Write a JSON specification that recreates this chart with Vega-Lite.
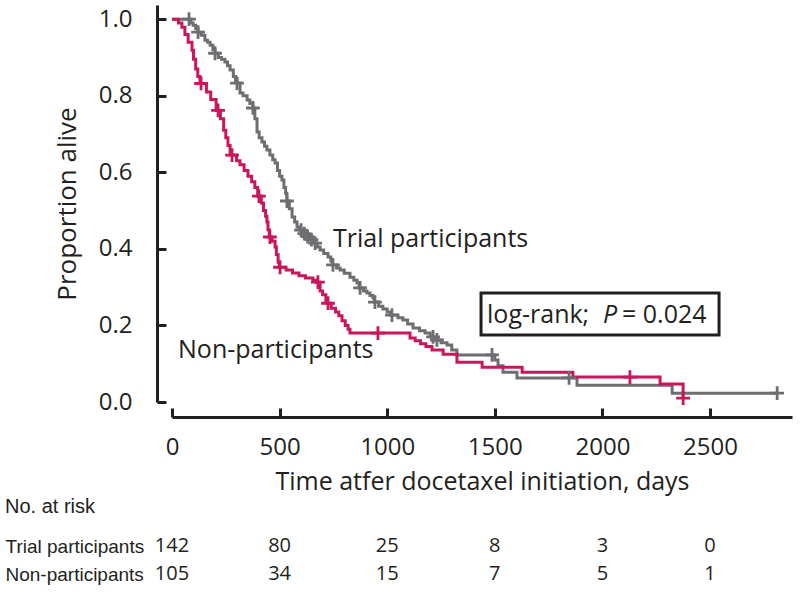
{
  "$schema": "https://vega.github.io/schema/vega-lite/v6.json",
  "background": "white",
  "padding": {"left": 5, "top": 5, "right": 5, "bottom": 5},
  "spacing": 3,
  "config": {
    "view": {"stroke": null},
    "font": "Open Sans",
    "axis": {"grid": false}
  },
  "datasets": {
    "curves": [
      {"group": "Trial participants", "day": 0, "surv": 1.0},
      {"group": "Trial participants", "day": 88, "surv": 0.99},
      {"group": "Trial participants", "day": 98, "surv": 0.984},
      {"group": "Trial participants", "day": 110, "surv": 0.975},
      {"group": "Trial participants", "day": 121, "surv": 0.966},
      {"group": "Trial participants", "day": 135, "surv": 0.958},
      {"group": "Trial participants", "day": 153, "surv": 0.945},
      {"group": "Trial participants", "day": 165, "surv": 0.94},
      {"group": "Trial participants", "day": 177, "surv": 0.932},
      {"group": "Trial participants", "day": 190, "surv": 0.92},
      {"group": "Trial participants", "day": 200, "surv": 0.911},
      {"group": "Trial participants", "day": 215, "surv": 0.9},
      {"group": "Trial participants", "day": 230, "surv": 0.895},
      {"group": "Trial participants", "day": 246, "surv": 0.888},
      {"group": "Trial participants", "day": 258, "surv": 0.878},
      {"group": "Trial participants", "day": 270, "surv": 0.867},
      {"group": "Trial participants", "day": 285, "surv": 0.85},
      {"group": "Trial participants", "day": 295, "surv": 0.84},
      {"group": "Trial participants", "day": 302, "surv": 0.833},
      {"group": "Trial participants", "day": 316, "surv": 0.807},
      {"group": "Trial participants", "day": 330, "surv": 0.8},
      {"group": "Trial participants", "day": 349, "surv": 0.789},
      {"group": "Trial participants", "day": 362, "surv": 0.78},
      {"group": "Trial participants", "day": 376, "surv": 0.768},
      {"group": "Trial participants", "day": 385, "surv": 0.74},
      {"group": "Trial participants", "day": 395, "surv": 0.705},
      {"group": "Trial participants", "day": 405, "surv": 0.69},
      {"group": "Trial participants", "day": 418, "surv": 0.679},
      {"group": "Trial participants", "day": 430, "surv": 0.668},
      {"group": "Trial participants", "day": 441, "surv": 0.658},
      {"group": "Trial participants", "day": 455, "surv": 0.645},
      {"group": "Trial participants", "day": 468, "surv": 0.633},
      {"group": "Trial participants", "day": 479, "surv": 0.624},
      {"group": "Trial participants", "day": 490, "surv": 0.605},
      {"group": "Trial participants", "day": 500, "surv": 0.59},
      {"group": "Trial participants", "day": 511, "surv": 0.58},
      {"group": "Trial participants", "day": 520, "surv": 0.56},
      {"group": "Trial participants", "day": 528, "surv": 0.545},
      {"group": "Trial participants", "day": 534, "surv": 0.525},
      {"group": "Trial participants", "day": 545, "surv": 0.505},
      {"group": "Trial participants", "day": 558, "surv": 0.483},
      {"group": "Trial participants", "day": 570, "surv": 0.47},
      {"group": "Trial participants", "day": 581, "surv": 0.457},
      {"group": "Trial participants", "day": 592, "surv": 0.449},
      {"group": "Trial participants", "day": 610, "surv": 0.44},
      {"group": "Trial participants", "day": 625, "surv": 0.432},
      {"group": "Trial participants", "day": 642, "surv": 0.424},
      {"group": "Trial participants", "day": 660, "surv": 0.415},
      {"group": "Trial participants", "day": 675, "surv": 0.405},
      {"group": "Trial participants", "day": 688, "surv": 0.397},
      {"group": "Trial participants", "day": 705, "surv": 0.388},
      {"group": "Trial participants", "day": 725, "surv": 0.379},
      {"group": "Trial participants", "day": 738, "surv": 0.368},
      {"group": "Trial participants", "day": 745, "surv": 0.358},
      {"group": "Trial participants", "day": 765, "surv": 0.35},
      {"group": "Trial participants", "day": 781, "surv": 0.345},
      {"group": "Trial participants", "day": 800, "surv": 0.336},
      {"group": "Trial participants", "day": 827, "surv": 0.326},
      {"group": "Trial participants", "day": 845, "surv": 0.318},
      {"group": "Trial participants", "day": 860, "surv": 0.311},
      {"group": "Trial participants", "day": 870, "surv": 0.298},
      {"group": "Trial participants", "day": 890, "surv": 0.29},
      {"group": "Trial participants", "day": 906, "surv": 0.285},
      {"group": "Trial participants", "day": 920, "surv": 0.278},
      {"group": "Trial participants", "day": 934, "surv": 0.272},
      {"group": "Trial participants", "day": 940, "surv": 0.261},
      {"group": "Trial participants", "day": 960, "surv": 0.25},
      {"group": "Trial participants", "day": 980, "surv": 0.243},
      {"group": "Trial participants", "day": 1000, "surv": 0.235},
      {"group": "Trial participants", "day": 1015, "surv": 0.227},
      {"group": "Trial participants", "day": 1050, "surv": 0.22},
      {"group": "Trial participants", "day": 1073, "surv": 0.214},
      {"group": "Trial participants", "day": 1095, "surv": 0.204},
      {"group": "Trial participants", "day": 1120, "surv": 0.193},
      {"group": "Trial participants", "day": 1150, "surv": 0.186},
      {"group": "Trial participants", "day": 1176, "surv": 0.18},
      {"group": "Trial participants", "day": 1200, "surv": 0.17},
      {"group": "Trial participants", "day": 1225, "surv": 0.162},
      {"group": "Trial participants", "day": 1250, "surv": 0.155},
      {"group": "Trial participants", "day": 1278, "surv": 0.149},
      {"group": "Trial participants", "day": 1300, "surv": 0.136},
      {"group": "Trial participants", "day": 1324, "surv": 0.123},
      {"group": "Trial participants", "day": 1500, "surv": 0.11},
      {"group": "Trial participants", "day": 1515, "surv": 0.095},
      {"group": "Trial participants", "day": 1538, "surv": 0.078},
      {"group": "Trial participants", "day": 1603, "surv": 0.063},
      {"group": "Trial participants", "day": 1882, "surv": 0.044},
      {"group": "Trial participants", "day": 2324, "surv": 0.023},
      {"group": "Trial participants", "day": 2812, "surv": 0.023},
      {"group": "Non-participants", "day": 0, "surv": 1.0},
      {"group": "Non-participants", "day": 30, "surv": 0.99},
      {"group": "Non-participants", "day": 46, "surv": 0.979},
      {"group": "Non-participants", "day": 60, "surv": 0.96},
      {"group": "Non-participants", "day": 75, "surv": 0.94},
      {"group": "Non-participants", "day": 93, "surv": 0.919},
      {"group": "Non-participants", "day": 100, "surv": 0.895},
      {"group": "Non-participants", "day": 110, "surv": 0.87},
      {"group": "Non-participants", "day": 120, "surv": 0.85},
      {"group": "Non-participants", "day": 130, "surv": 0.832},
      {"group": "Non-participants", "day": 160, "surv": 0.81},
      {"group": "Non-participants", "day": 180, "surv": 0.79},
      {"group": "Non-participants", "day": 205, "surv": 0.762},
      {"group": "Non-participants", "day": 225, "surv": 0.74},
      {"group": "Non-participants", "day": 240, "surv": 0.71},
      {"group": "Non-participants", "day": 250, "surv": 0.69},
      {"group": "Non-participants", "day": 260, "surv": 0.67},
      {"group": "Non-participants", "day": 270, "surv": 0.645},
      {"group": "Non-participants", "day": 300, "surv": 0.63},
      {"group": "Non-participants", "day": 316, "surv": 0.62},
      {"group": "Non-participants", "day": 335, "surv": 0.605},
      {"group": "Non-participants", "day": 353, "surv": 0.59},
      {"group": "Non-participants", "day": 370, "surv": 0.575},
      {"group": "Non-participants", "day": 385, "surv": 0.56},
      {"group": "Non-participants", "day": 398, "surv": 0.538},
      {"group": "Non-participants", "day": 415, "surv": 0.52},
      {"group": "Non-participants", "day": 425, "surv": 0.5},
      {"group": "Non-participants", "day": 435, "surv": 0.485},
      {"group": "Non-participants", "day": 441, "surv": 0.47},
      {"group": "Non-participants", "day": 446, "surv": 0.45},
      {"group": "Non-participants", "day": 452, "surv": 0.431},
      {"group": "Non-participants", "day": 465, "surv": 0.42},
      {"group": "Non-participants", "day": 479, "surv": 0.405},
      {"group": "Non-participants", "day": 485, "surv": 0.385},
      {"group": "Non-participants", "day": 493, "surv": 0.365},
      {"group": "Non-participants", "day": 498, "surv": 0.352},
      {"group": "Non-participants", "day": 530, "surv": 0.345},
      {"group": "Non-participants", "day": 560, "surv": 0.337},
      {"group": "Non-participants", "day": 590, "surv": 0.33},
      {"group": "Non-participants", "day": 620, "surv": 0.324},
      {"group": "Non-participants", "day": 655, "surv": 0.318},
      {"group": "Non-participants", "day": 670, "surv": 0.313},
      {"group": "Non-participants", "day": 688, "surv": 0.29},
      {"group": "Non-participants", "day": 700, "surv": 0.28},
      {"group": "Non-participants", "day": 715, "surv": 0.265},
      {"group": "Non-participants", "day": 722, "surv": 0.258},
      {"group": "Non-participants", "day": 740, "surv": 0.245},
      {"group": "Non-participants", "day": 760, "surv": 0.235},
      {"group": "Non-participants", "day": 775, "surv": 0.225},
      {"group": "Non-participants", "day": 790, "surv": 0.212},
      {"group": "Non-participants", "day": 805, "surv": 0.2},
      {"group": "Non-participants", "day": 818, "surv": 0.19},
      {"group": "Non-participants", "day": 827, "surv": 0.18},
      {"group": "Non-participants", "day": 1106, "surv": 0.167},
      {"group": "Non-participants", "day": 1130, "surv": 0.16},
      {"group": "Non-participants", "day": 1155, "surv": 0.152},
      {"group": "Non-participants", "day": 1180, "surv": 0.145},
      {"group": "Non-participants", "day": 1208, "surv": 0.136},
      {"group": "Non-participants", "day": 1260, "surv": 0.125},
      {"group": "Non-participants", "day": 1324, "surv": 0.104},
      {"group": "Non-participants", "day": 1441, "surv": 0.091},
      {"group": "Non-participants", "day": 1627, "surv": 0.078},
      {"group": "Non-participants", "day": 1863, "surv": 0.065},
      {"group": "Non-participants", "day": 2268, "surv": 0.047},
      {"group": "Non-participants", "day": 2375, "surv": 0.01}
    ],
    "censors": [
      {"group": "Trial participants", "day": 79, "surv": 1.0},
      {"group": "Trial participants", "day": 121, "surv": 0.966},
      {"group": "Trial participants", "day": 200, "surv": 0.911},
      {"group": "Trial participants", "day": 302, "surv": 0.833},
      {"group": "Trial participants", "day": 376, "surv": 0.768},
      {"group": "Trial participants", "day": 534, "surv": 0.525},
      {"group": "Trial participants", "day": 600, "surv": 0.449},
      {"group": "Trial participants", "day": 615, "surv": 0.44},
      {"group": "Trial participants", "day": 630, "surv": 0.432},
      {"group": "Trial participants", "day": 648, "surv": 0.424},
      {"group": "Trial participants", "day": 665, "surv": 0.415},
      {"group": "Trial participants", "day": 748, "surv": 0.358},
      {"group": "Trial participants", "day": 874, "surv": 0.298},
      {"group": "Trial participants", "day": 943, "surv": 0.261},
      {"group": "Trial participants", "day": 1022, "surv": 0.227},
      {"group": "Trial participants", "day": 1213, "surv": 0.17},
      {"group": "Trial participants", "day": 1231, "surv": 0.162},
      {"group": "Trial participants", "day": 1487, "surv": 0.123},
      {"group": "Trial participants", "day": 1845, "surv": 0.063},
      {"group": "Trial participants", "day": 2812, "surv": 0.023},
      {"group": "Non-participants", "day": 135, "surv": 0.832},
      {"group": "Non-participants", "day": 214, "surv": 0.762},
      {"group": "Non-participants", "day": 279, "surv": 0.645},
      {"group": "Non-participants", "day": 404, "surv": 0.538},
      {"group": "Non-participants", "day": 455, "surv": 0.431},
      {"group": "Non-participants", "day": 502, "surv": 0.352},
      {"group": "Non-participants", "day": 678, "surv": 0.313},
      {"group": "Non-participants", "day": 725, "surv": 0.258},
      {"group": "Non-participants", "day": 957, "surv": 0.18},
      {"group": "Non-participants", "day": 2128, "surv": 0.065},
      {"group": "Non-participants", "day": 2375, "surv": 0.01}
    ],
    "risk": [
      {"group": "Trial participants", "day": 0, "n": "142"},
      {"group": "Trial participants", "day": 500, "n": "80"},
      {"group": "Trial participants", "day": 1000, "n": "25"},
      {"group": "Trial participants", "day": 1500, "n": "8"},
      {"group": "Trial participants", "day": 2000, "n": "3"},
      {"group": "Trial participants", "day": 2500, "n": "0"},
      {"group": "Non-participants", "day": 0, "n": "105"},
      {"group": "Non-participants", "day": 500, "n": "34"},
      {"group": "Non-participants", "day": 1000, "n": "15"},
      {"group": "Non-participants", "day": 1500, "n": "7"},
      {"group": "Non-participants", "day": 2000, "n": "5"},
      {"group": "Non-participants", "day": 2500, "n": "1"}
    ]
  },
  "vconcat": [
    {
      "width": 620,
      "height": 397,
      "layer": [
        {
          "data": {"name": "curves"},
          "mark": {"type": "line", "interpolate": "step-after", "strokeWidth": 3},
          "encoding": {
            "x": {
              "field": "day", "type": "quantitative",
              "scale": {"domain": [0, 2881], "nice": false, "zero": false},
              "axis": {
                "title": "Time atfer docetaxel initiation, days",
                "values": [0, 500, 1000, 1500, 2000, 2500],
                "format": "d",
                "offset": 15,
                "tickSize": -9, "tickWidth": 3, "tickColor": "#231f20",
                "domainColor": "#231f20", "domainWidth": 3,
                "labelPadding": 27, "labelFontSize": 24, "labelColor": "#231f20",
                "labelFlush": false, "labelOverlap": false,
                "titleFontSize": 25, "titleFontWeight": "normal", "titleColor": "#231f20",
                "titlePadding": 10
              }
            },
            "y": {
              "field": "surv", "type": "quantitative",
              "scale": {"domain": [0, 1.037], "nice": false, "zero": false},
              "axis": {
                "title": "Proportion alive",
                "values": [0, 0.2, 0.4, 0.6, 0.8, 1.0],
                "format": ".1f",
                "offset": 15,
                "tickSize": -9, "tickWidth": 3, "tickColor": "#231f20",
                "domainColor": "#231f20", "domainWidth": 3,
                "labelPadding": 34, "labelFontSize": 24, "labelColor": "#231f20",
                "labelFlush": false, "labelOverlap": false,
                "titleFontSize": 26, "titleFontWeight": "normal", "titleColor": "#231f20",
                "titlePadding": 18
              }
            },
            "color": {
              "field": "group", "type": "nominal",
              "scale": {"domain": ["Trial participants", "Non-participants"], "range": ["#6d6e71", "#c8175d"]},
              "legend": null
            }
          }
        },
        {
          "data": {"name": "censors"},
          "mark": {"type": "point", "shape": "M0,-1L0,1M-1,0L1,0", "filled": false, "size": 190, "strokeWidth": 2.8, "opacity": 1},
          "encoding": {
            "x": {"field": "day", "type": "quantitative"},
            "y": {"field": "surv", "type": "quantitative"},
            "color": {"field": "group", "type": "nominal", "legend": null}
          }
        },
        {
          "data": {"values": [{"day": 1436, "day2": 2542, "surv": 0.285, "surv2": 0.175}]},
          "mark": {"type": "rect", "fill": "white", "stroke": "#231f20", "strokeWidth": 3},
          "encoding": {
            "x": {"field": "day", "type": "quantitative"},
            "x2": {"field": "day2"},
            "y": {"field": "surv", "type": "quantitative"},
            "y2": {"field": "surv2"}
          }
        },
        {
          "data": {"values": [
            {"day": 748, "surv": 0.405, "label": "Trial participants"},
            {"day": 28, "surv": 0.115, "label": "Non-participants"},
            {"day": 1464, "surv": 0.206, "label": "log-rank;"},
            {"day": 2091, "surv": 0.206, "label": "= 0.024"}
          ]},
          "mark": {"type": "text", "align": "left", "baseline": "alphabetic", "fontSize": 25, "color": "#231f20"},
          "encoding": {
            "x": {"field": "day", "type": "quantitative"},
            "y": {"field": "surv", "type": "quantitative"},
            "text": {"field": "label"}
          }
        },
        {
          "data": {"values": [{"day": 2003, "surv": 0.206, "label": "P"}]},
          "mark": {"type": "text", "align": "left", "baseline": "alphabetic", "fontSize": 25, "fontStyle": "italic", "color": "#231f20"},
          "encoding": {
            "x": {"field": "day", "type": "quantitative"},
            "y": {"field": "surv", "type": "quantitative"},
            "text": {"field": "label"}
          }
        }
      ]
    },
    {
      "width": 620,
      "height": 56,
      "title": {"text": "No. at risk", "anchor": "start", "frame": "bounds", "font": "Liberation Sans", "fontSize": 20, "fontWeight": "normal", "color": "#231f20", "offset": 19},
      "data": {"name": "risk"},
      "mark": {"type": "text", "align": "center", "baseline": "alphabetic", "fontSize": 20, "color": "#231f20"},
      "encoding": {
        "x": {"field": "day", "type": "quantitative", "scale": {"domain": [0, 2881], "nice": false, "zero": false}, "axis": null},
        "y": {
          "field": "group", "type": "nominal",
          "scale": {"domain": ["Trial participants", "Non-participants"]},
          "axis": {"title": null, "domain": false, "ticks": false, "labelAlign": "left", "labelPadding": 167, "labelFont": "Liberation Sans", "labelFontSize": 19, "labelBaseline": "alphabetic", "labelColor": "#231f20"}
        },
        "text": {"field": "n"}
      }
    }
  ]
}
